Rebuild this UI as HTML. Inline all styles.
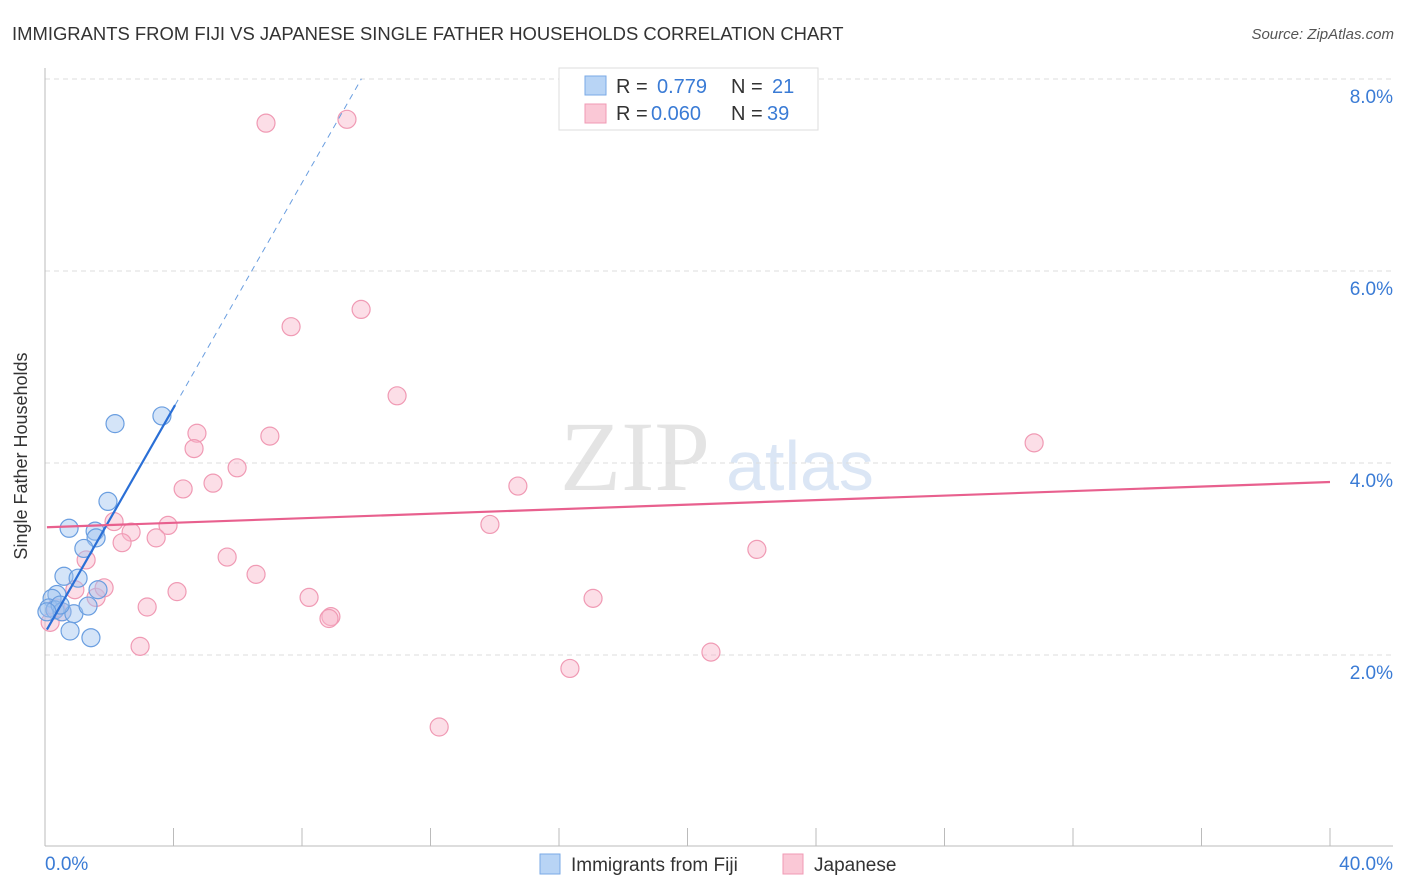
<!DOCTYPE html>
<html><head><meta charset="utf-8"><style>
body{margin:0;background:#fff;font-family:"Liberation Sans",sans-serif}
svg{display:block}
</style></head><body>
<svg id="c" width="1406" height="892" xmlns="http://www.w3.org/2000/svg">
<text x="12" y="40" font-size="18.45" fill="#333">IMMIGRANTS FROM FIJI VS JAPANESE SINGLE FATHER HOUSEHOLDS CORRELATION CHART</text>
<text x="1394" y="39" font-size="15" fill="#555" font-style="italic" text-anchor="end">Source: ZipAtlas.com</text>
<text x="635" y="490" font-size="100" font-family="Liberation Serif,serif" fill="#e4e4e4" text-anchor="middle">ZIP</text>
<text x="800" y="490" font-size="70" fill="#dbe6f5" text-anchor="middle">atlas</text>
<g id="grid"></g>
<g id="axes"></g>
<g id="pts"></g>
<g id="lines"></g>
<text x="27" y="456" font-size="18" fill="#333" text-anchor="middle" transform="rotate(-90 27 456)">Single Father Households</text>
<g>
<rect x="559" y="68" width="259" height="62" fill="#fff" stroke="#ddd"/>
<rect x="585" y="76" width="21" height="19" fill="#b8d4f5" stroke="#7aaae6"/>
<rect x="585" y="104" width="21" height="19" fill="#fac8d6" stroke="#f09ab4"/>
<text x="616" y="93" font-size="20" fill="#333">R =</text><text x="657" y="93" font-size="20" fill="#3a7bd5">0.779</text>
<text x="731" y="93" font-size="20" fill="#333">N =</text><text x="772" y="93" font-size="20" fill="#3a7bd5">21</text>
<text x="616" y="120" font-size="20" fill="#333">R =</text><text x="651" y="120" font-size="20" fill="#3a7bd5">0.060</text>
<text x="731" y="120" font-size="20" fill="#333">N =</text><text x="767" y="120" font-size="20" fill="#3a7bd5">39</text>
</g>
<g>
<rect x="540" y="854" width="20" height="20" fill="#b8d4f5" stroke="#7aaae6"/>
<text x="571" y="871" font-size="19" fill="#333">Immigrants from Fiji</text>
<rect x="783" y="854" width="20" height="20" fill="#fac8d6" stroke="#f09ab4"/>
<text x="814" y="871" font-size="19" fill="#333">Japanese</text>
</g>
</svg>
<script>
const blueX=[2.18,3.64,1.96,0.75,1.56,1.59,1.21,0.59,1.03,1.65,0.37,0.22,0.12,0.31,0.53,0.90,1.34,0.78,1.43,0.47,0.06];
const blueY=[4.41,4.49,3.60,3.32,3.29,3.22,3.11,2.82,2.80,2.68,2.63,2.59,2.49,2.47,2.45,2.43,2.51,2.25,2.18,2.52,2.45];
const pinkX=[6.88,9.40,7.66,9.84,10.96,4.73,4.64,7.00,5.98,4.30,5.23,30.79,14.72,13.85,22.16,2.15,2.68,3.83,2.40,3.46,5.67,1.28,6.57,4.11,3.18,8.22,8.90,8.84,17.06,2.96,16.34,20.73,12.27,1.59,0.93,0.53,0.16,0.34,1.84];
const pinkY=[7.54,7.58,5.42,5.60,4.70,4.31,4.15,4.28,3.95,3.73,3.79,4.21,3.76,3.36,3.10,3.39,3.28,3.35,3.17,3.22,3.02,2.99,2.84,2.66,2.50,2.60,2.40,2.38,2.59,2.09,1.86,2.03,1.25,2.60,2.68,2.45,2.34,2.49,2.70];
const yTicks=[2,4,6,8];
const yTickLabels=["2.0%","4.0%","6.0%","8.0%"];
const xEndLabels=["0.0%","40.0%"];
const blueTrend=[2.23,0.586];
const pinkTrend=[3.33,0.0118];
const NS='http://www.w3.org/2000/svg';
const X=v=>45+v/40*1285, Y=v=>847-v*96;
function mk(t,a,p){const e=document.createElementNS(NS,t);for(const k in a)e.setAttribute(k,a[k]);document.getElementById(p).appendChild(e);return e;}
yTicks.forEach((t,i)=>{
 const g=mk('line',{x1:45,x2:1393,y1:Y(t),y2:Y(t),stroke:'#ddd','stroke-dasharray':'5,4'},'grid');
 
 
 const l=mk('text',{x:1393,y:Y(t)+24,'font-size':19,fill:'#3a7bd5','text-anchor':'end'},'grid');
 l.textContent=yTickLabels[i];
 
 
});
let a=mk('line',{x1:45,x2:45,y1:68,y2:846,stroke:'#bbb'},'axes');


a=mk('line',{x1:45,x2:1393,y1:846,y2:846,stroke:'#bbb'},'axes');


for(let i=0;i<=10;i++){const t=mk('line',{x1:X(i*4),x2:X(i*4),y1:828,y2:846,stroke:'#bbb'},'axes');
 
 }
[[0,'start'],[40,'end']].forEach((p,i)=>{const t=mk('text',{x:i?1393:45,y:870,'font-size':19,fill:'#3a7bd5','text-anchor':p[1]},'axes');t.textContent=xEndLabels[i];
 
 });
pinkX.forEach((x,i)=>{const c=mk('circle',{cx:X(x),cy:Y(pinkY[i]),r:9,fill:'rgba(248,182,202,0.45)',stroke:'#f09ab4','stroke-width':1.2},'pts');
 
 });
blueX.forEach((x,i)=>{const c=mk('circle',{cx:X(x),cy:Y(blueY[i]),r:9,fill:'rgba(160,196,240,0.45)',stroke:'#6a9ee0','stroke-width':1.2},'pts');
 
 });
let L=mk('line',{x1:X(0.06),y1:Y(blueTrend[0]+blueTrend[1]*0.06),x2:X(4.05),y2:Y(blueTrend[0]+blueTrend[1]*4.05),stroke:'#2a6fd6','stroke-width':2.2},'lines');


L=mk('line',{x1:X(4.05),y1:Y(blueTrend[0]+blueTrend[1]*4.05),x2:X(9.85),y2:Y(blueTrend[0]+blueTrend[1]*9.85),stroke:'#6a9ee0','stroke-width':1,'stroke-dasharray':'6,5'},'lines');


L=mk('line',{x1:X(0.06),y1:Y(pinkTrend[0]+pinkTrend[1]*0.06),x2:X(40),y2:Y(pinkTrend[0]+pinkTrend[1]*40),stroke:'#e8608e','stroke-width':2.2},'lines');


</script>
</body></html>
